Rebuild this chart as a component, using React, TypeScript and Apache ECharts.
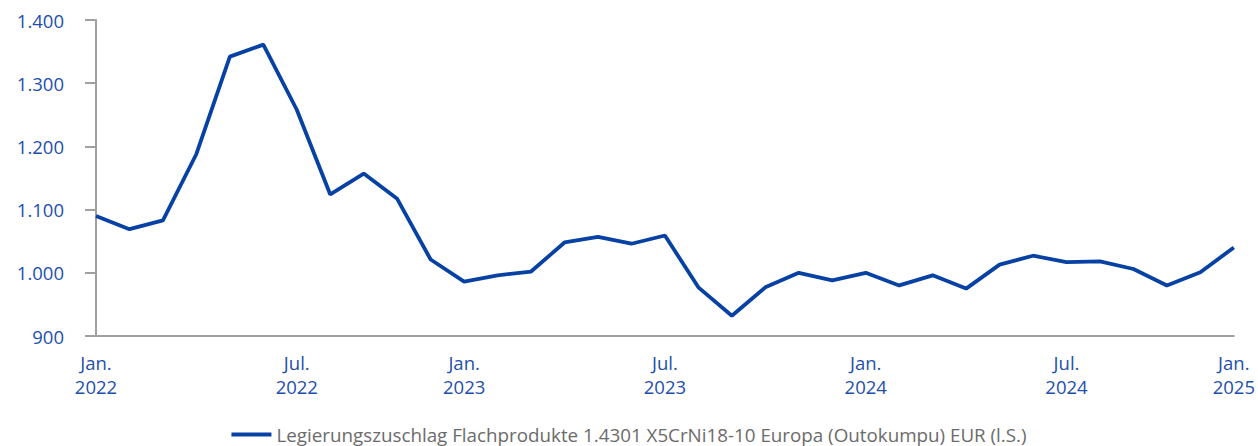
import React, { useEffect, useRef } from "react";
import * as echarts from "echarts";

const categories = [
  "Jan. 2022", "Feb. 2022", "Mär. 2022", "Apr. 2022", "Mai 2022", "Jun. 2022", "Jul. 2022",
  "Aug. 2022", "Sep. 2022", "Okt. 2022", "Nov. 2022", "Dez. 2022",
  "Feb. 2023", "Mär. 2023", "Apr. 2023", "Mai 2023", "Jun. 2023", "Jul. 2023",
  "Aug. 2023", "Sep. 2023", "Okt. 2023", "Nov. 2023", "Dez. 2023", "Jan. 2024",
  "Feb. 2024", "Mär. 2024", "Apr. 2024", "Mai 2024", "Jun. 2024", "Jul. 2024",
  "Aug. 2024", "Sep. 2024", "Okt. 2024", "Nov. 2024", "Dez. 2024",
];

const values = [
  1090, 1069, 1083, 1188, 1342, 1361, 1258, 1124, 1157, 1117, 1021, 986,
  996, 1002, 1048, 1057, 1046, 1059, 977, 932, 977, 1000, 988, 1000,
  980, 996, 975, 1013, 1027, 1017, 1018, 1006, 980, 1001, 1040,
];

const labelIndices = [0, 6, 11, 17, 23, 29, 34];
const tickLabels = ["Jan.\n2022", "Jul.\n2022", "Jan.\n2023", "Jul.\n2023", "Jan.\n2024", "Jul.\n2024", "Jan.\n2025"];

const seriesName = "Legierungszuschlag Flachprodukte 1.4301 X5CrNi18-10 Europa (Outokumpu) EUR (l.S.)";

const FONT = "'Open Sans', sans-serif";
const BLUE_TEXT = "#1d4fad";
const LINE_BLUE = "#0641a3";
const AXIS_GRAY = "#a0a0a0";

function fmt(v: number): string {
  if (v >= 1000) {
    return Math.floor(v / 1000) + "." + String(v % 1000).padStart(3, "0");
  }
  return String(v);
}

export default function App() {
  const ref = useRef<HTMLDivElement>(null);
  useEffect(() => {
    if (!ref.current) return;
    const chart = echarts.init(ref.current, null, { renderer: "svg" });
    chart.setOption({
      animation: false,
      textStyle: { fontFamily: FONT },
      grid: { left: 96, right: 21, top: 20, bottom: 110 },
      xAxis: {
        type: "category",
        data: categories,
        boundaryGap: false,
        axisLine: { show: true, lineStyle: { color: AXIS_GRAY, width: 2 } },
        axisTick: { show: false },
        splitLine: { show: false },
        axisLabel: {
          interval: (index: number) => labelIndices.includes(index),
          formatter: (_v: string, index: number) => {
            const i = labelIndices.indexOf(index);
            return i >= 0 ? tickLabels[i] : "";
          },
          color: BLUE_TEXT,
          fontFamily: FONT,
          fontSize: 18.5,
          lineHeight: 24,
          margin: 14,
        },
      },
      yAxis: {
        type: "value",
        min: 900,
        max: 1400,
        interval: 100,
        axisLine: { show: true, lineStyle: { color: AXIS_GRAY, width: 2 } },
        axisTick: { show: true, length: 11, lineStyle: { color: AXIS_GRAY, width: 2 } },
        splitLine: { show: false },
        axisLabel: {
          formatter: (v: number) => fmt(v),
          color: BLUE_TEXT,
          fontFamily: FONT,
          fontSize: 18.5,
          margin: 32,
        },
      },
      legend: {
        show: true,
        top: 420,
        left: "center",
        icon: "rect",
        itemWidth: 40,
        itemHeight: 4,
        itemGap: 10,
        textStyle: { color: "#6b6b6b", fontSize: 18.8, fontFamily: FONT },
        data: [seriesName],
      },
      series: [
        {
          name: seriesName,
          type: "line",
          data: values,
          symbol: "none",
          lineStyle: { color: LINE_BLUE, width: 3.8 },
          itemStyle: { color: LINE_BLUE },
        },
      ],
    });
    return () => chart.dispose();
  }, []);
  return (
    <div
      ref={ref}
      style={{ position: "absolute", left: 0, top: 0, width: 1258, height: 446 }}
    />
  );
}
